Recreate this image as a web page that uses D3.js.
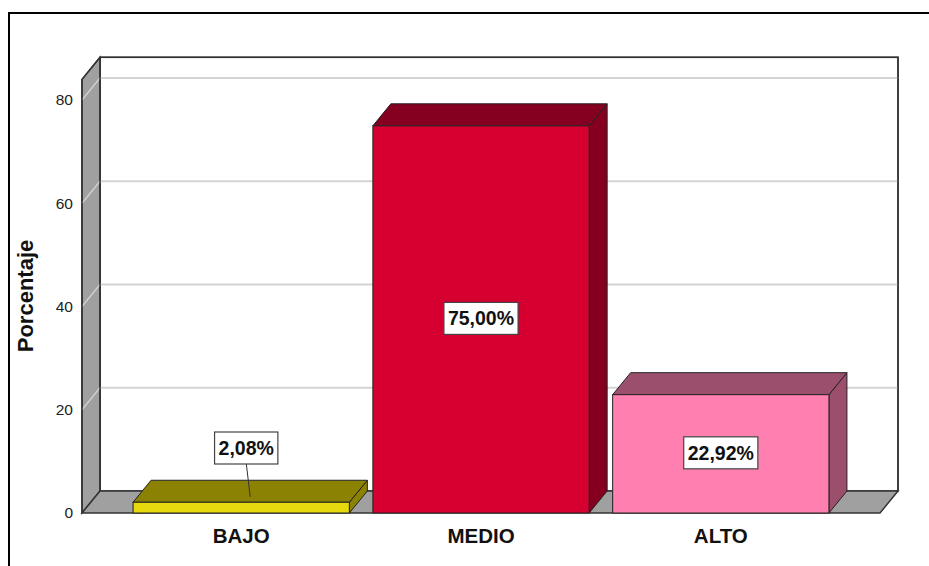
<!doctype html><html><head><meta charset="utf-8"></head><body style="margin:0;background:#fff">
<script src="https://cdnjs.cloudflare.com/ajax/libs/d3/7.8.5/d3.min.js"></script>
<script>
// data
const categories = ["BAJO", "MEDIO", "ALTO"];
const values     = [2.08, 75.00, 22.92];
const labels     = ["2,08%", "75,00%", "22,92%"];
const frontCols  = ["#E6DA0E", "#D50030", "#FF80B0"];
const darkCols   = ["#8B8204", "#850020", "#9C4F6C"];
const yTicks     = [0, 20, 40, 60, 80];
const yTitle     = "Porcentaje";

// dimensions
const W = 929, H = 566;
const x0 = 82, x1 = 880;      // front floor edge
const yBase = 513, yTopVal = 84;
const DX = 18, DY = -22;      // depth offset
const font = "'Liberation Sans', Arial, sans-serif";

const svg = d3.select("body").append("svg")
  .attr("width", W).attr("height", H)
  .style("font-family", font);

const x = d3.scaleBand().domain(categories).range([x0, x1])
  .paddingInner(0.098).paddingOuter(0.213);
const y = d3.scaleLinear().domain([0, yTopVal]).range([yBase, 79.35]);

// outer frame
svg.append("rect").attr("x", 9).attr("y", 13).attr("width", W + 20).attr("height", H + 20)
  .attr("fill", "none").attr("stroke", "#000").attr("stroke-width", 2);

const gray = "#A0A0A0", edge = "#333";
const pts = a => a.map(p => p.join(",")).join(" ");

// back wall
svg.append("rect").attr("x", x0 + DX).attr("y", y(yTopVal) + DY)
  .attr("width", x1 - x0).attr("height", y(0) - y(yTopVal))
  .attr("fill", "#fff").attr("stroke", edge).attr("stroke-width", 1.5);

// left wall
svg.append("polygon")
  .attr("points", pts([[x0, y(yTopVal)], [x0 + DX, y(yTopVal) + DY], [x0 + DX, y(0) + DY], [x0, y(0)]]))
  .attr("fill", gray).attr("stroke", edge).attr("stroke-width", 1.5);

// floor
svg.append("polygon")
  .attr("points", pts([[x0, y(0)], [x0 + DX, y(0) + DY], [x1 + DX, y(0) + DY], [x1, y(0)]]))
  .attr("fill", gray).attr("stroke", edge).attr("stroke-width", 1.5);

// gridlines
const grid = svg.append("g").attr("stroke", "#D4D4D4").attr("stroke-width", 2);
yTicks.filter(t => t > 0).forEach(t => {
  grid.append("line").attr("x1", x0 + DX).attr("x2", x1 + DX)
    .attr("y1", y(t) + DY).attr("y2", y(t) + DY);
  grid.append("line").attr("x1", x0).attr("x2", x0 + DX)
    .attr("y1", y(t)).attr("y2", y(t) + DY).attr("stroke-width", 1.2);
});
// redraw wall edges on top of gridlines
svg.append("polyline")
  .attr("points", pts([[x0, y(yTopVal)], [x0 + DX, y(yTopVal) + DY], [x1 + DX, y(yTopVal) + DY], [x1 + DX, y(0) + DY]]))
  .attr("fill", "none").attr("stroke", edge).attr("stroke-width", 1.5);
svg.append("line").attr("x1", x0 + DX).attr("x2", x0 + DX)
  .attr("y1", y(yTopVal) + DY).attr("y2", y(0) + DY).attr("stroke", edge).attr("stroke-width", 1.5);
svg.append("line").attr("x1", x0).attr("x2", x0)
  .attr("y1", y(yTopVal)).attr("y2", y(0)).attr("stroke", edge).attr("stroke-width", 1.5);

// y axis tick labels
const yAxis = svg.append("g").attr("transform", `translate(${x0},0)`)
  .call(d3.axisLeft(y).tickValues(yTicks).tickSize(0).tickPadding(9));
yAxis.select(".domain").remove();
yAxis.selectAll("text").attr("font-family", font).attr("font-size", 15.5).attr("fill", "#222");

// y title
svg.append("text").attr("transform", "translate(33,296) rotate(-90)")
  .attr("text-anchor", "middle").attr("font-weight", "bold").attr("font-size", 22)
  .attr("fill", "#111").text(yTitle);

// bars
const bars = svg.append("g").selectAll("g").data(categories).join("g");
bars.each(function(c, i) {
  const g = d3.select(this);
  const bx = x(c), bw = x.bandwidth(), yt = y(values[i]), yb = y(0);
  g.append("polygon").attr("points", pts([[bx + bw, yt], [bx + bw + DX, yt + DY], [bx + bw + DX, yb + DY], [bx + bw, yb]]))
    .attr("fill", darkCols[i]).attr("stroke", "#222").attr("stroke-width", 1);
  g.append("polygon").attr("points", pts([[bx, yt], [bx + DX, yt + DY], [bx + bw + DX, yt + DY], [bx + bw, yt]]))
    .attr("fill", darkCols[i]).attr("stroke", "#222").attr("stroke-width", 1);
  g.append("rect").attr("x", bx).attr("y", yt).attr("width", bw).attr("height", yb - yt)
    .attr("fill", frontCols[i]).attr("stroke", "#222").attr("stroke-width", 1);
});

// category labels
svg.append("g").selectAll("text").data(categories).join("text")
  .attr("x", d => x(d) + x.bandwidth() / 2).attr("y", 543)
  .attr("text-anchor", "middle").attr("font-weight", "bold").attr("font-size", 20.5)
  .attr("fill", "#111").text(d => d);

// value labels
categories.forEach((c, i) => {
  const cx = x(c) + x.bandwidth() / 2;
  const yt = y(values[i]);
  let lx = cx, ly = (yt + y(0)) / 2 - 1;
  const small = (y(0) - yt) < 40;
  if (small) {
    lx = cx + 5; ly = 448;
    svg.append("line").attr("x1", lx).attr("y1", ly + 15)
      .attr("x2", cx + DX * 0.5).attr("y2", yt + DY * 0.25)
      .attr("stroke", "#333").attr("stroke-width", 1);
  }
  const g = svg.append("g");
  const r = g.append("rect").attr("fill", "#fff").attr("stroke", "#444").attr("stroke-width", 1.2);
  const t = g.append("text").attr("x", lx).attr("y", ly).attr("dy", "0.35em")
    .attr("text-anchor", "middle").attr("font-weight", "bold").attr("font-size", 19.5)
    .attr("fill", "#111").text(labels[i]);
  const b = t.node().getBBox();
  r.attr("x", b.x - 4).attr("y", ly - 16).attr("width", b.width + 8).attr("height", 32);
});
</script></body></html>
